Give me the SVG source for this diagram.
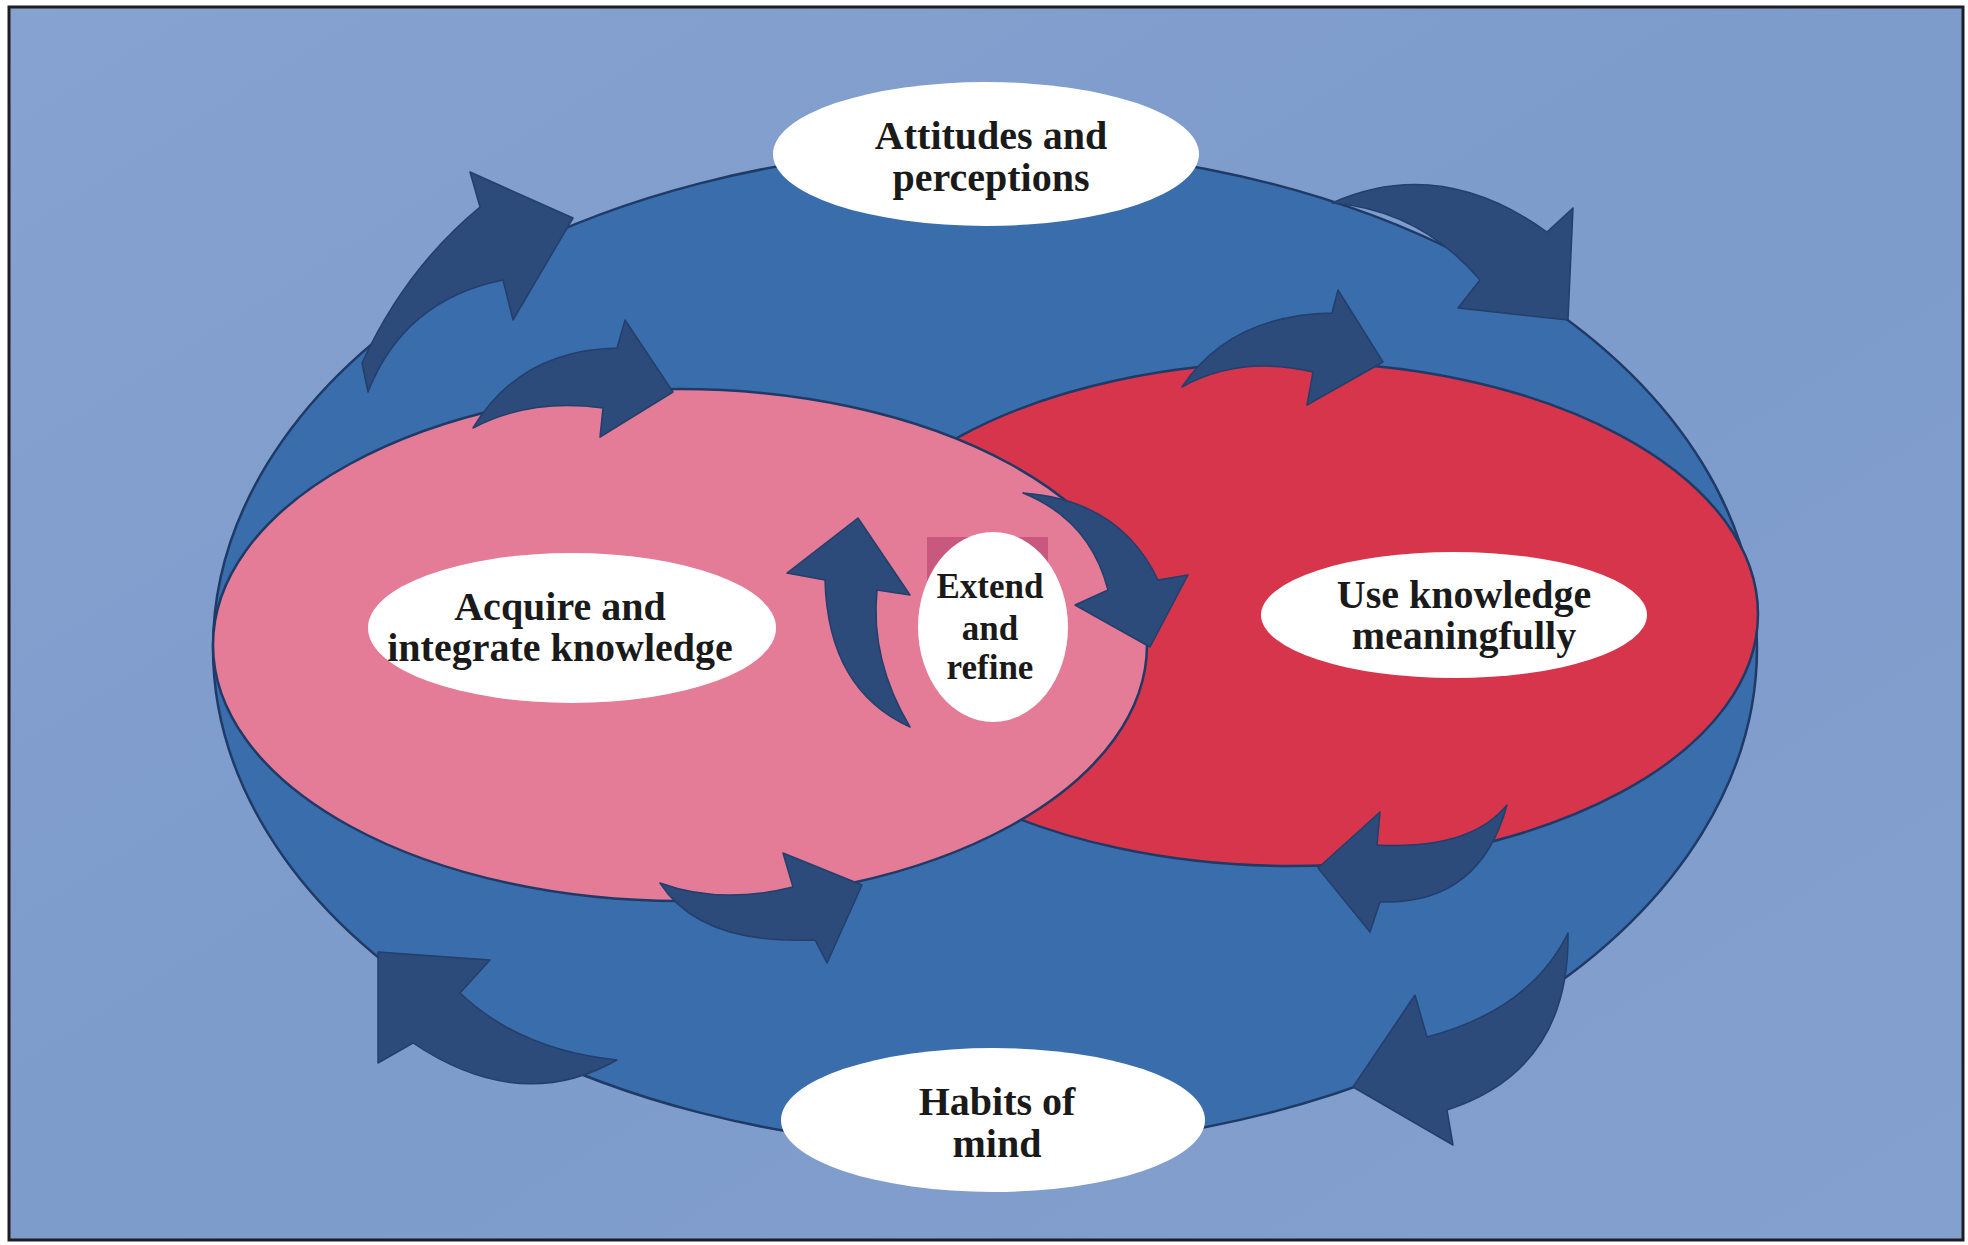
<svg xmlns="http://www.w3.org/2000/svg" width="1968" height="1245" viewBox="0 0 1968 1245">
  <defs>
    <linearGradient id="bg" x1="0" y1="0" x2="1" y2="1">
      <stop offset="0" stop-color="#86a2d0"/>
      <stop offset="0.5" stop-color="#7d9bcb"/>
      <stop offset="1" stop-color="#84a0ce"/>
    </linearGradient>
  </defs>
  <style>
    .ring { stroke: #1f3a66; stroke-width: 2.5; }
    .outer { fill: #3a6dac; }
    .use { fill: #d6354b; }
    .acquire { fill: #e47b97; }
    .bubble { fill: #ffffff; }
    .arrow { fill: #2c4a7a; stroke: #233f6c; stroke-width: 1.5; stroke-linejoin: round; }
    .label { font-family: "Liberation Serif", "Times New Roman", serif; font-weight: bold; font-size: 40px; fill: #1a1a1a; text-anchor: middle; }
    .small { font-size: 35px; }
  </style>

  <!-- page and frame -->
  <rect x="0" y="0" width="1968" height="1245" fill="#ffffff"/>
  <rect x="9" y="7" width="1954" height="1233" fill="url(#bg)" stroke="#1e1e22" stroke-width="3"/>

  <!-- large ring holding both processes -->
  <g id="outer-cycle">
    <ellipse class="outer ring" cx="985" cy="648" rx="772" ry="500"/>
  </g>

  <g id="use-knowledge">
    <ellipse class="use ring" cx="1291" cy="614" rx="467" ry="252"/>
  </g>

  <g id="acquire-knowledge">
    <ellipse class="acquire ring" cx="680" cy="645" rx="467" ry="256"/>
  </g>

  <g id="attitudes">
    <ellipse class="bubble" cx="986" cy="154" rx="213" ry="72"/>
    <text class="label" x="991" y="149">Attitudes and</text>
    <text class="label" x="991" y="191">perceptions</text>
  </g>

  <g id="habits">
    <ellipse class="bubble" cx="993" cy="1120" rx="212" ry="72"/>
    <text class="label" x="997" y="1115">Habits of</text>
    <text class="label" x="997" y="1157">mind</text>
  </g>

  <!-- curved flow arrows -->
  <g id="connectors">
    <!-- outer ring, top left -->
    <path class="arrow" d="M368,392 L362,363 Q405,269 480,207 L470,172 L573,218 L513,320 L503,280 Q404,300 368,392 Z"/>
    <!-- outer ring, top right -->
    <path class="arrow" d="M1332,203 Q1440,155 1547,232 L1573,208 L1568,320 L1458,308 L1480,280 Q1420,210 1332,203 Z"/>
    <!-- top of acquire ellipse -->
    <path class="arrow" d="M473,428 Q520,350 617,348 L625,320 L673,392 L600,437 L603,408 Q530,398 473,428 Z"/>
    <!-- top of use ellipse -->
    <path class="arrow" d="M1182,387 Q1230,315 1332,313 L1338,290 L1383,362 L1307,405 L1313,372 Q1240,355 1182,387 Z"/>
    <!-- centre, rising -->
    <path class="arrow" d="M825,580 Q828,690 910,727 Q870,660 877,590 L910,595 L858,518 L787,573 Z"/>
    <!-- centre, falling -->
    <path class="arrow" d="M1023,493 Q1120,500 1158,580 L1188,575 L1150,647 L1075,605 L1108,590 Q1090,520 1023,493 Z"/>
    <!-- bottom of acquire ellipse -->
    <path class="arrow" d="M660,883 Q700,945 815,940 L827,963 L862,885 L783,853 L793,887 Q720,905 660,883 Z"/>
    <!-- bottom of use ellipse -->
    <path class="arrow" d="M1507,805 Q1480,905 1380,902 L1370,932 L1318,868 L1380,812 L1377,845 Q1470,850 1507,805 Z"/>
    <!-- outer ring, bottom left -->
    <path class="arrow" d="M378,952 L490,960 L460,993 Q520,1050 617,1060 Q520,1115 413,1043 L378,1063 Z"/>
    <!-- outer ring, bottom right -->
    <path class="arrow" d="M1568,933 Q1570,1070 1447,1110 L1453,1145 L1353,1087 L1415,995 L1427,1037 Q1530,1010 1568,933 Z"/>
  </g>

  <g id="acquire-label">
    <ellipse class="bubble" cx="572" cy="628" rx="204" ry="75"/>
    <text class="label" x="560" y="620">Acquire and</text>
    <text class="label" x="560" y="661">integrate knowledge</text>
  </g>

  <g id="use-label">
    <ellipse class="bubble" cx="1454" cy="615" rx="193" ry="63"/>
    <text class="label" x="1464" y="608">Use knowledge</text>
    <text class="label" x="1464" y="649">meaningfully</text>
  </g>

  <g id="extend-refine">
    <rect x="927" y="537" width="121" height="60" fill="#c8587d"/>
    <ellipse class="bubble" cx="993" cy="627" rx="75" ry="95"/>
    <text class="label small" x="990" y="598">Extend</text>
    <text class="label small" x="990" y="640">and</text>
    <text class="label small" x="990" y="679">refine</text>
  </g>
</svg>
